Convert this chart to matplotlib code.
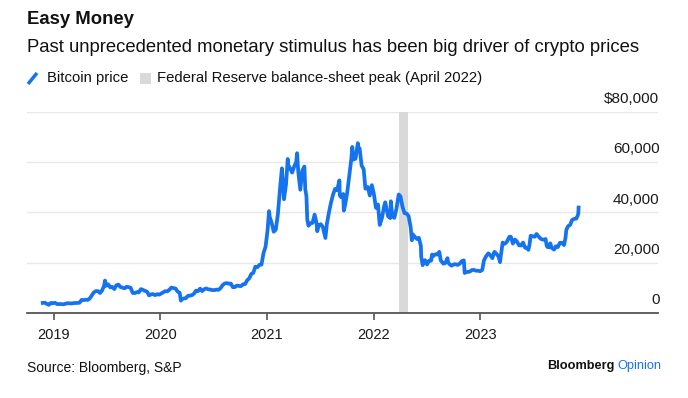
import numpy as np
import pandas as pd
import matplotlib
matplotlib.use("Agg")
import matplotlib.pyplot as plt
from matplotlib.lines import Line2D
from matplotlib.patches import Rectangle
from matplotlib.transforms import blended_transform_factory, offset_copy

# =========================
# Data
# =========================
dates = [
    "2018-11-25", "2018-12-02", "2018-12-09", "2018-12-16", "2018-12-23", "2018-12-30",
    "2019-01-06", "2019-01-13", "2019-01-20", "2019-01-27", "2019-02-03", "2019-02-10",
    "2019-02-17", "2019-02-24", "2019-03-03", "2019-03-10", "2019-03-17", "2019-03-24",
    "2019-03-31", "2019-04-07", "2019-04-14", "2019-04-21", "2019-04-28", "2019-05-05",
    "2019-05-12", "2019-05-19", "2019-05-26", "2019-06-02", "2019-06-09", "2019-06-16",
    "2019-06-23", "2019-06-26", "2019-06-30", "2019-07-07", "2019-07-14", "2019-07-21",
    "2019-07-28", "2019-08-04", "2019-08-11", "2019-08-18", "2019-08-25", "2019-09-01",
    "2019-09-08", "2019-09-15", "2019-09-22", "2019-09-29", "2019-10-06", "2019-10-13",
    "2019-10-20", "2019-10-27", "2019-11-03", "2019-11-10", "2019-11-17", "2019-11-24",
    "2019-12-01", "2019-12-08", "2019-12-15", "2019-12-22", "2019-12-29",
    "2020-01-05", "2020-01-12", "2020-01-19", "2020-01-26", "2020-02-02", "2020-02-09",
    "2020-02-16", "2020-02-23", "2020-03-01", "2020-03-08", "2020-03-12", "2020-03-15",
    "2020-03-22", "2020-03-29", "2020-04-05", "2020-04-12", "2020-04-19", "2020-04-26",
    "2020-05-03", "2020-05-10", "2020-05-17", "2020-05-24", "2020-05-31", "2020-06-07",
    "2020-06-14", "2020-06-21", "2020-06-28", "2020-07-05", "2020-07-12", "2020-07-19",
    "2020-07-26", "2020-08-02", "2020-08-09", "2020-08-16", "2020-08-23", "2020-08-30",
    "2020-09-06", "2020-09-13", "2020-09-20", "2020-09-27", "2020-10-04", "2020-10-11",
    "2020-10-18", "2020-10-25", "2020-11-01", "2020-11-08", "2020-11-15", "2020-11-22",
    "2020-11-29", "2020-12-06", "2020-12-13", "2020-12-20", "2020-12-27",
    "2021-01-03", "2021-01-08", "2021-01-10", "2021-01-17", "2021-01-24", "2021-01-31",
    "2021-02-07", "2021-02-14", "2021-02-21", "2021-02-28", "2021-03-07", "2021-03-13",
    "2021-03-14", "2021-03-21", "2021-03-28", "2021-04-04", "2021-04-11", "2021-04-14",
    "2021-04-18", "2021-04-25", "2021-05-02", "2021-05-09", "2021-05-12", "2021-05-16",
    "2021-05-19", "2021-05-23", "2021-05-30", "2021-06-06", "2021-06-13", "2021-06-20",
    "2021-06-22", "2021-06-27", "2021-07-04", "2021-07-11", "2021-07-20", "2021-07-25",
    "2021-08-01", "2021-08-08", "2021-08-15", "2021-08-22", "2021-08-29", "2021-09-06",
    "2021-09-07", "2021-09-12", "2021-09-19", "2021-09-21", "2021-09-26", "2021-10-03",
    "2021-10-10", "2021-10-17", "2021-10-20", "2021-10-24", "2021-10-31", "2021-11-08",
    "2021-11-10", "2021-11-14", "2021-11-21", "2021-11-28", "2021-12-04", "2021-12-12",
    "2021-12-19", "2021-12-26",
    "2022-01-02", "2022-01-09", "2022-01-16", "2022-01-22", "2022-01-30", "2022-02-06",
    "2022-02-10", "2022-02-13", "2022-02-20", "2022-02-24", "2022-02-27", "2022-03-01",
    "2022-03-06", "2022-03-13", "2022-03-20", "2022-03-28", "2022-04-03", "2022-04-10",
    "2022-04-17", "2022-04-24", "2022-05-01", "2022-05-08", "2022-05-12", "2022-05-15",
    "2022-05-22", "2022-05-29", "2022-06-05", "2022-06-12", "2022-06-13", "2022-06-18",
    "2022-06-26", "2022-07-03", "2022-07-10", "2022-07-17", "2022-07-20", "2022-07-24",
    "2022-07-31", "2022-08-07", "2022-08-14", "2022-08-19", "2022-08-28", "2022-09-04",
    "2022-09-11", "2022-09-13", "2022-09-18", "2022-09-25", "2022-10-02", "2022-10-09",
    "2022-10-16", "2022-10-23", "2022-10-30", "2022-11-06", "2022-11-09", "2022-11-13",
    "2022-11-20", "2022-11-27", "2022-12-04", "2022-12-11", "2022-12-18", "2022-12-25",
    "2023-01-01", "2023-01-08", "2023-01-14", "2023-01-22", "2023-01-29", "2023-02-05",
    "2023-02-12", "2023-02-16", "2023-02-19", "2023-02-26", "2023-03-05", "2023-03-10",
    "2023-03-12", "2023-03-19", "2023-03-26", "2023-04-02", "2023-04-11", "2023-04-16",
    "2023-04-23", "2023-04-30", "2023-05-07", "2023-05-14", "2023-05-21", "2023-05-28",
    "2023-06-04", "2023-06-11", "2023-06-15", "2023-06-18", "2023-06-23", "2023-06-30",
    "2023-07-07", "2023-07-13", "2023-07-23", "2023-07-30", "2023-08-06", "2023-08-13",
    "2023-08-17", "2023-08-20", "2023-08-27", "2023-08-29", "2023-09-03", "2023-09-11",
    "2023-09-17", "2023-09-24", "2023-10-01", "2023-10-08", "2023-10-15", "2023-10-20",
    "2023-10-23", "2023-10-29", "2023-11-05", "2023-11-12", "2023-11-19", "2023-11-26",
    "2023-12-01", "2023-12-03", "2023-12-04",
]
bitcoin_price = [
    4000, 4100, 3600, 3250, 4000, 3900,
    4050, 3550, 3550, 3550, 3450, 3650,
    3900, 3850, 3800, 3900, 4000, 3990,
    4100, 5200, 5100, 5300, 5200, 5800,
    7000, 8200, 8700, 8700, 7950, 8950,
    10800, 12900, 10800, 11400, 10200, 10400,
    9500, 11000, 11300, 10300, 10100, 9800,
    10400, 10300, 10000, 8000, 7900, 8300,
    8200, 9500, 9200, 8800, 8500, 7000,
    7400, 7500, 7100, 7500, 7300,
    7750, 8200, 8700, 8600, 9300, 10100,
    9900, 9700, 8500, 8000, 4900, 5400,
    5800, 5900, 6800, 6900, 7100, 7700,
    8900, 8700, 9700, 8700, 9450, 9750,
    9400, 9300, 9100, 9100, 9300, 9200,
    9900, 11100, 11700, 11900, 11650, 11700,
    10250, 10300, 10900, 10750, 10700, 11400,
    11500, 13000, 13750, 15500, 15950, 18400,
    18200, 19150, 19200, 23800, 26300,
    33000, 40500, 38300, 35800, 32300, 33100,
    39000, 48700, 57500, 45200, 51000, 61200,
    59000, 57500, 55800, 58200, 60000, 63500,
    56200, 49000, 56600, 58200, 49200, 46400,
    37000, 34700, 35700, 35800, 39100, 35600,
    32500, 34700, 35300, 34200, 29800, 35400,
    39900, 43800, 47000, 49300, 48800, 52700,
    46800, 46000, 47300, 40700, 43200, 48200,
    54900, 61500, 66000, 61000, 61300, 67500,
    64900, 65500, 58600, 57200, 49400, 50100,
    46700, 50800,
    47300, 41800, 43100, 35000, 37900, 42400,
    44000, 42200, 38300, 38300, 37700, 44400,
    38400, 37800, 41300, 47100, 46400, 42200,
    39700, 39500, 38500, 34000, 28900, 31300,
    30300, 29400, 29900, 26600, 22500, 19000,
    21000, 19300, 20800, 20800, 23200, 22600,
    23300, 23200, 24300, 20900, 19600, 19900,
    21800, 20200, 19400, 18800, 19300, 19400,
    19100, 19600, 20600, 20900, 15900, 16300,
    16300, 16500, 17100, 17100, 16800, 16800,
    16600, 17100, 20900, 22700, 23700, 22900,
    21800, 23600, 24300, 23500, 22400, 20200,
    22100, 28000, 27500, 28200, 30300, 30300,
    27600, 29200, 28400, 26900, 26800, 28000,
    25900, 25900, 25100, 26500, 30700, 30500,
    30300, 31400, 30000, 29300, 29100, 29400,
    26600, 26200, 26100, 27700, 25900, 25200,
    26500, 26200, 27900, 27900, 27000, 29700,
    33000, 34500, 35000, 37000, 37400, 37500,
    38700, 39500, 41900,
]
fed_peak = ("2022-03-28", "2022-04-28")
year_ticks = ["2019", "2020", "2021", "2022", "2023"]
y_ticks = [0, 20000, 40000, 60000, 80000]
y_tick_labels = ["0", "20,000", "40,000", "60,000", "$80,000"]

# =========================
# Plot
# =========================
plt.rcParams["font.family"] = ["Liberation Sans", "DejaVu Sans"]
blue = "#1673f0"
grey_band = "#d9d9d9"
axis_grey = "#555555"

fig = plt.figure(figsize=(6.88, 3.98), dpi=100)
ax = fig.add_axes([26.7 / 688, 85 / 398, 631.3 / 688, 201.3 / 398])

x = pd.to_datetime(dates)
ax.axvspan(pd.Timestamp(fed_peak[0]), pd.Timestamp(fed_peak[1]),
           color=grey_band, lw=0, zorder=1)
ax.plot(x, bitcoin_price, color=blue, lw=2.7, zorder=3, solid_joinstyle="round")

ax.set_xlim(pd.Timestamp("2018-10-01"), pd.Timestamp("2024-09-01"))
ax.set_ylim(0, 80000)

# gridlines
for v in y_ticks[1:]:
    ax.axhline(v, color="#e8e8e8", lw=1, zorder=0)

# y labels sit above the gridlines at the right end
trans = offset_copy(blended_transform_factory(ax.transAxes, ax.transData),
                    fig=fig, x=1, y=4, units="points")
for v, lab in zip(y_ticks, y_tick_labels):
    ax.text(1.0, v, lab, transform=trans, ha="right", va="bottom",
            fontsize=11, color="#1a1a1a")

ax.set_yticks([])
ax.set_xticks(pd.to_datetime([f"{y}-01-01" for y in year_ticks]))
ax.set_xticklabels(year_ticks)
ax.tick_params(axis="x", direction="out", length=5, width=1.2, color=axis_grey,
               labelsize=10.5, pad=6, labelcolor="#1a1a1a")

for s in ["top", "right", "left"]:
    ax.spines[s].set_visible(False)
ax.spines["bottom"].set_color(axis_grey)
ax.spines["bottom"].set_linewidth(1.3)
ax.patch.set_alpha(0)

# =========================
# Titles, legend, footer
# =========================
fig.text(27 / 688, 1 - 20 / 398, "Easy Money", fontsize=13.3, fontweight="bold",
         va="center", ha="left", color="#111111")
fig.text(27 / 688, 1 - 47 / 398,
         "Past unprecedented monetary stimulus has been big driver of crypto prices",
         fontsize=13.3, va="center", ha="left", color="#111111")

fig.add_artist(Line2D([28 / 688, 37 / 688], [1 - 84 / 398, 1 - 73 / 398],
                      color=blue, lw=2.5, solid_capstyle="butt"))
fig.text(47 / 688, 1 - 78 / 398, "Bitcoin price", fontsize=10.7,
         va="center", ha="left", color="#111111")
fig.add_artist(Rectangle((140 / 688, 1 - 84 / 398), 11 / 688, 11 / 398,
                         color=grey_band, lw=0))
fig.text(157 / 688, 1 - 78 / 398, "Federal Reserve balance-sheet peak (April 2022)",
         fontsize=10.7, va="center", ha="left", color="#111111")

fig.text(27 / 688, 1 - 368 / 398, "Source: Bloomberg, S&P", fontsize=10,
         va="center", ha="left", color="#111111")
t1 = fig.text(547 / 688, 1 - 366 / 398, "Bloomberg", fontsize=9.2, fontweight="bold",
              va="center", ha="left", color="#111111")
fig.canvas.draw()
bb = t1.get_window_extent()
fig.text((bb.x1 + 2.5) / 688, 1 - 366 / 398, "Opinion", fontsize=9.2,
         va="center", ha="left", color="#1673f0")

fig.savefig("out.png", dpi=100)
